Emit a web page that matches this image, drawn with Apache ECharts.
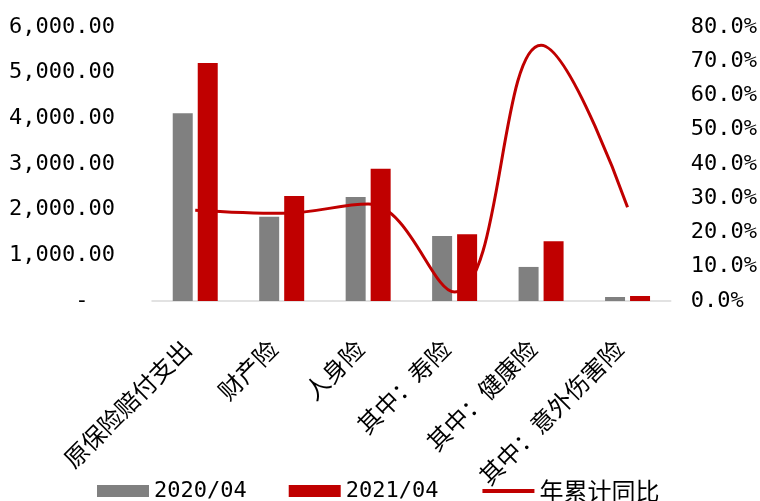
<!DOCTYPE html>
<html>
<head>
<meta charset="utf-8">
<script src="https://cdn.jsdelivr.net/npm/echarts@6/dist/echarts.min.js"></script>
<style>
html,body{margin:0;padding:0;background:#fff;}
#chart{width:760px;height:501px;}
</style>
</head>
<body>
<div id="chart"></div>
<script>
const categories = ['原保险赔付支出','财产险','人身险','其中：寿险','其中：健康险','其中：意外伤害险'];
const series2020 = [4112, 1843, 2275, 1426, 746, 88];
const series2021 = [5209, 2297, 2897, 1463, 1310, 110];
const yoyPct = [26.5, 25.6, 28.3, 2.6, 74.7, 27.4];
const seriesNames = ['2020/04', '2021/04', '年累计同比'];

const monoFont = '"DejaVu Sans Mono", "Noto Sans CJK SC", monospace';
const cjkFont = '"Noto Sans CJK SC", sans-serif';

const chart = echarts.init(document.getElementById('chart'), null, {renderer: 'canvas'});
chart.setOption({
  animation: false,
  backgroundColor: '#ffffff',
  grid: {left: 152, right: 88, top: 27, bottom: 200},
  legend: {
    left: 92, bottom: -7,
    itemWidth: 52, itemHeight: 12, itemGap: 42,
    textStyle: {fontFamily: monoFont, fontSize: 22, color: '#000'},
    data: [
      {name: seriesNames[0], icon: 'rect'},
      {name: seriesNames[1], icon: 'rect'},
      {name: seriesNames[2], itemStyle: {opacity: 0}, lineStyle: {width: 4},
       textStyle: {fontFamily: cjkFont, fontSize: 24}}
    ]
  },
  xAxis: {
    type: 'category',
    data: categories,
    axisLine: {lineStyle: {color: '#d9d9d9', width: 1.5}},
    axisTick: {show: false},
    axisLabel: {
      rotate: 45, margin: 35, interval: 0,
      fontFamily: cjkFont, fontSize: 24, color: '#000',
      padding: [0, 12, 0, 0]
    }
  },
  yAxis: [
    {
      type: 'value', min: 0, max: 6000, interval: 1000,
      splitLine: {show: false}, axisLine: {show: false}, axisTick: {show: false},
      axisLabel: {
        margin: 37, fontFamily: monoFont, fontSize: 22, color: '#000',
        formatter: v => v === 0 ? '-  ' : v.toLocaleString('en-US', {minimumFractionDigits: 2, maximumFractionDigits: 2})
      }
    },
    {
      type: 'value', min: 0, max: 80, interval: 10,
      splitLine: {show: false}, axisLine: {show: false}, axisTick: {show: false},
      axisLabel: {
        margin: 20, fontFamily: monoFont, fontSize: 22, color: '#000',
        formatter: v => v.toFixed(1) + '%'
      }
    }
  ],
  series: [
    {name: seriesNames[0], type: 'bar', data: series2020, barWidth: 20, barGap: '25%',
     itemStyle: {color: '#808080'}},
    {name: seriesNames[1], type: 'bar', data: series2021, barWidth: 20,
     itemStyle: {color: '#C00000'}},
    {name: seriesNames[2], type: 'line', yAxisIndex: 1, data: yoyPct, smooth: 0.4,
     symbol: 'none', lineStyle: {color: '#C00000', width: 3}, itemStyle: {color: '#C00000'}, z: 5}
  ]
});
</script>
</body>
</html>
